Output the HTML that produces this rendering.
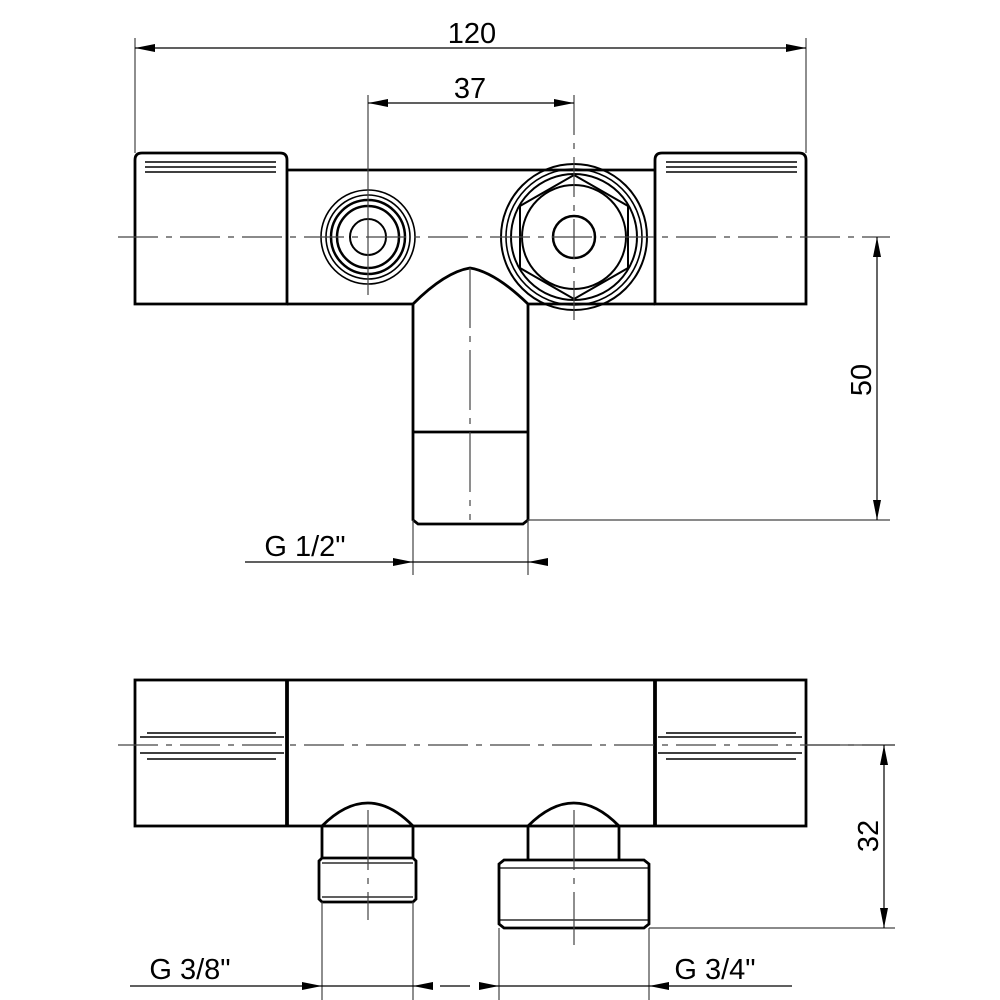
<!DOCTYPE html>
<html><head><meta charset="utf-8"><style>body{margin:0;background:#fff}svg{display:block}</style></head><body>
<svg width="1000" height="1000" viewBox="0 0 1000 1000" xmlns="http://www.w3.org/2000/svg" font-family="Liberation Sans, sans-serif">
<defs>
<marker id="a" viewBox="0 0 20 8" refX="20" refY="4" markerWidth="20" markerHeight="8" markerUnits="userSpaceOnUse" orient="auto-start-reverse"><path d="M0,0L20,4L0,8z" fill="#000"/></marker>
</defs>
<g fill="none" stroke="#000">
<!-- TOP VIEW -->
<g stroke-width="2.8">
<path d="M135,304V160q0,-7 7,-7H280q7,0 7,7V304Z"/>
<path d="M806,304V160q0,-7 -7,-7H662q-7,0 -7,7V304Z"/>
<path d="M287,170H655"/>
<path d="M287,304H413Q445,272 470,268Q495,272 528,304H655"/>
<path d="M413,304V520l5,4h105l5,-4V304"/>
<path d="M413,432H528"/>
</g>
<g stroke-width="1.6">
<path d="M145,162H276M145,167H276M145,172H276M666,162H797M666,167H797M666,172H797"/>
<circle cx="368" cy="237" r="47"/><circle cx="368" cy="237" r="42"/><circle cx="368" cy="237" r="37" stroke-width="2.5"/><circle cx="368" cy="237" r="31" stroke-width="2.5"/><circle cx="368" cy="237" r="18" stroke-width="2"/>
<circle cx="574" cy="237" r="73" stroke-width="2"/><circle cx="574" cy="237" r="68"/><circle cx="574" cy="237" r="63" stroke-width="2"/>
<path d="M574,175L628,206V268L574,299L520,268V206Z" stroke-width="2"/>
<circle cx="574" cy="237" r="52" stroke-width="2"/><circle cx="574" cy="237" r="21" stroke-width="2.5"/>
</g>
<g stroke-width="1.2" stroke="#444">
<path d="M118,237H890" stroke-dasharray="40,8,6,8"/>
<path d="M574,95V320" stroke-dasharray="40,8,6,8"/>
<path d="M470,268V520" stroke-dasharray="60,8,6,8"/>
<path d="M368,95V295"/>
<path d="M135,38V153M806,38V153"/>
<path d="M528,520H890"/>
<path d="M413,520V575M528,520V575"/>
</g>
<g stroke-width="1.2">
<path d="M135,48H806" marker-start="url(#a)" marker-end="url(#a)"/>
<path d="M368,103H574" marker-start="url(#a)" marker-end="url(#a)"/>
<path d="M877,237V520" marker-start="url(#a)" marker-end="url(#a)"/>
<path d="M245,562H393" /><path d="M393,562H413" marker-end="url(#a)"/>
<path d="M413,562H528" /><path d="M548,562H528" marker-end="url(#a)"/>
</g>
<!-- BOTTOM VIEW -->
<g stroke-width="2.8">
<rect x="135" y="680" width="671" height="146"/>
<path d="M287,680V826M655,680V826" stroke-width="3.8"/>
<path d="M322,826V858M413,826V858M322,826Q368,780 413,826"/>
<path d="M528,826V860M619,826V860M528,826Q574,780 619,826"/>
<path d="M322,858h91l3,3v38l-3,3h-91l-3,-3v-38z"/>
<path d="M504,860h140l5,4v60l-5,4h-140l-5,-4v-60z"/>
</g>
<g stroke-width="1.6">
<path d="M140,737H284M140,753H284M147,733H276M147,759H276M658,737H802M658,753H802M666,733H796M666,759H796"/>
<path d="M322,863H413M322,897H413M499,868H649M499,920H649" stroke-width="1.2"/>
</g>
<g stroke-width="1.2" stroke="#444">
<path d="M118,745H895" stroke-dasharray="40,8,6,8"/>
<path d="M368,810V920M574,810V945" stroke-dasharray="60,8,6,8"/>
<path d="M806,745H895M649,928H895"/>
<path d="M322,902V1000M413,902V1000M499,928V1000M649,928V1000"/>
</g>
<g stroke-width="1.2">
<path d="M884,745V928" marker-start="url(#a)" marker-end="url(#a)"/>
<path d="M130,986H302"/><path d="M302,986H322" marker-end="url(#a)"/>
<path d="M322,986H413"/><path d="M433,986H413" marker-end="url(#a)"/>
<path d="M440,986H470"/><path d="M479,986H499" marker-end="url(#a)"/>
<path d="M499,986H649"/><path d="M669,986H649" marker-end="url(#a)"/><path d="M669,986H792"/>
</g>
</g>
<g font-size="29" fill="#000" text-anchor="middle">
<text x="472" y="43">120</text>
<text x="470" y="98">37</text>
<text x="305" y="556">G 1/2"</text>
<text x="190" y="979">G 3/8"</text>
<text x="715" y="979">G 3/4"</text>
<text transform="translate(871,380) rotate(-90)">50</text>
<text transform="translate(878,836) rotate(-90)">32</text>
</g>
</svg>
</body></html>
